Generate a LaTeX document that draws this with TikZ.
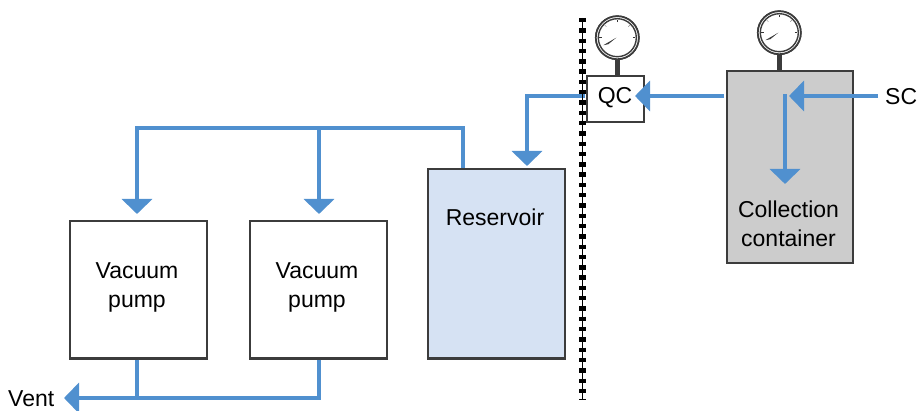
\documentclass[tikz,border=0pt]{standalone}
\usepackage{fontspec}
\usepackage{tikz}
\usetikzlibrary{arrows.meta, calc}
\setmainfont{Liberation Sans}
\definecolor{pipeblue}{HTML}{5090CF}
\definecolor{boxgrey}{HTML}{3C3C3C}
\definecolor{resblue}{HTML}{D6E2F3}
\definecolor{contgrey}{HTML}{CCCCCC}

\begin{document}
\begin{tikzpicture}[x=1pt, y=-1pt,
    box/.style = {draw=boxgrey, line width=2.5pt, minimum width=#1, inner sep=0pt, anchor=north west},
    txt/.style = {font=\fontsize{23}{29}\selectfont, align=center, text=black, inner sep=0pt},
    pipe/.style = {draw=pipeblue, line width=4.4pt},
    arr/.style = {pipe, -{Triangle[width=30pt, length=15pt]}},
    gauge/.style = {draw=boxgrey, circle, line width=1.7pt, minimum size=43pt, inner sep=0pt, fill=white}]
    \useasboundingbox (0,0) rectangle (917,411);

    % boxes
    \node[box=137pt, minimum height=137pt] (pumpa) at (68.5,220) {};
    \node[box=137pt, minimum height=137pt] (pumpb) at (248.5,220) {};
    \node[box=137pt, minimum height=189pt, fill=resblue] (res) at (426.5,168) {};
    \node[box=57pt, minimum height=46pt] (qc) at (585.5,75) {};
    \node[box=126pt, minimum height=192pt, fill=contgrey] (cont) at (725.5,70) {};

    % gauges
    \node[gauge] (gaugeqc) at (617.3,37.7) {};
    \node[gauge] (gaugecont) at (779.3,32.7) {};
    \draw[boxgrey, line width=4.5pt] (gaugeqc) -- (gaugeqc |- qc.north);
    \draw[boxgrey, line width=4.5pt] (gaugecont) -- (gaugecont |- cont.north);
    \foreach \g in {gaugeqc, gaugecont} {
        \node[gauge, fill=white] at (\g) {};
        \draw[boxgrey, line width=1.4pt] (\g) circle (19pt);
        \foreach \a in {0,90,180}
            \draw[black!80, line width=.6pt] ($(\g)+(\a:-15.5)$) -- ($(\g)+(\a:-18)$);
        \foreach \a in {45,135}
            \draw[black!45, line width=.5pt] ($(\g)+(\a:-15.5)$) -- ($(\g)+(\a:-18)$);
        \fill[boxgrey] ($(\g)+(-1,0)$) -- ($(\g)+(-14,7.5)$) -- ($(\g)+(-9,6.5)$) -- cycle;
    }

    % labels
    \node[txt] (pumpatxt) at (137,287.5) {Vacuum\\pump};
    \node[txt] (pumpbtxt) at (317,287.5) {Vacuum\\pump};
    \node[txt] (restxt) at (495,217) {Reservoir};
    \node[txt] (qctxt) at (615,97.5) {QC};
    \node[txt] (conttxt) at (788.5,223.5) {Collection\\container};
    \node[txt, anchor=west] (sctxt) at (885,97) {SC};
    \node[txt, anchor=west] (venttxt) at (8,399) {Vent};

    % free ends of the lines
    \coordinate (resout) at (463,168);
    \coordinate (topa) at (137,128);
    \coordinate (topb) at (319,128);
    \coordinate (pumpain) at (137,214);
    \coordinate (pumpbin) at (319,214);
    \coordinate (venta) at (137,398);
    \coordinate (venttip) at (64,398);
    \coordinate (qcout) at (585,96);
    \coordinate (restip) at (527,166);
    \coordinate (contout) at (724,96);
    \coordinate (qctip) at (635,96);
    \coordinate (scin) at (878,96);
    \coordinate (conttip) at (789,96);
    \coordinate (dropstart) at (785,94);
    \coordinate (droptip) at (785,184);

    % pipes
    \draw[arr] (resout) |- (topa) -- (pumpain);
    \draw[arr] (topb) -- (pumpbin);
    \draw[pipe] (pumpa.south -| topa) -- (venta);
    \draw[arr] (pumpb.south -| topb) |- (venttip);
    \draw[arr] (qcout) -| (restip);
    \draw[arr] (contout) -- (qctip);
    \draw[arr] (scin) -- (conttip);
    \draw[arr] (dropstart) -- (droptip);

    % wall
    \coordinate (walltop) at (582,18);
    \coordinate (wallend) at (582,400);
    \draw[black, line width=.8pt] (walltop) -- (wallend);
    \draw[black, line width=7pt, dash pattern=on 4.4pt off 5.9pt] (walltop) -- (wallend);
\end{tikzpicture}
\end{document}
